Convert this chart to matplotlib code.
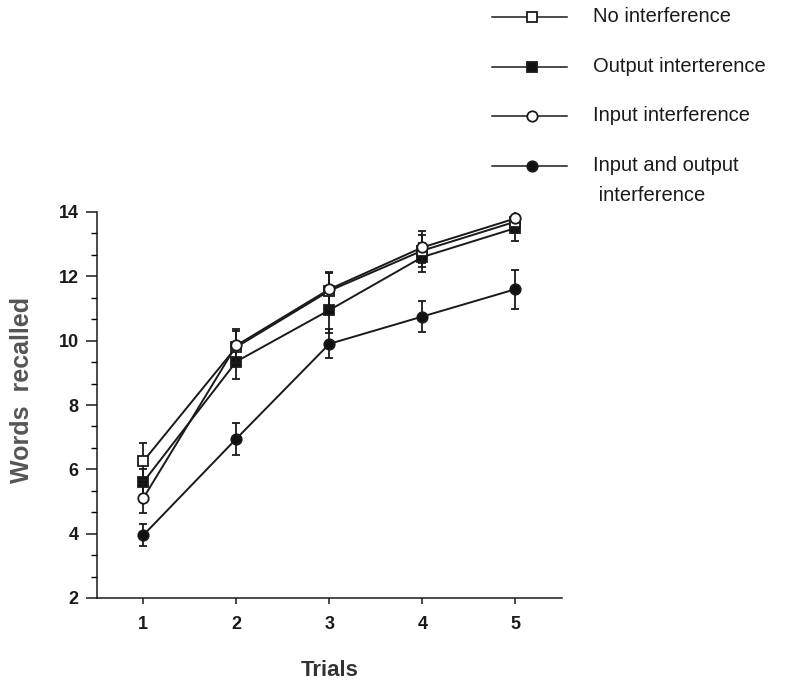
import matplotlib.pyplot as plt
from matplotlib.lines import Line2D
from matplotlib.ticker import AutoMinorLocator

plt.rcParams["font.family"] = ["Liberation Sans", "DejaVu Sans"]

trials = [1, 2, 3, 4, 5]
labels = ["No interference", "Output interterence", "Input interference",
          "Input and output\n interference"]

no_interf = [6.25, 9.8, 11.55, 12.8, 13.7]
no_interf_err = [0.57, 0.5, 0.55, 0.5, 0.35]
output_interf = [5.6, 9.35, 10.95, 12.6, 13.5]
output_interf_err = [0.4, 0.55, 0.7, 0.45, 0.4]
input_interf = [5.1, 9.85, 11.6, 12.9, 13.8]
input_interf_err = [0.45, 0.5, 0.55, 0.5, 0.3]
both_interf = [3.95, 6.95, 9.9, 10.75, 11.6]
both_interf_err = [0.34, 0.5, 0.45, 0.48, 0.6]

series = [no_interf, output_interf, input_interf, both_interf]
errors = [no_interf_err, output_interf_err, input_interf_err, both_interf_err]
markers = ["s", "s", "o", "o"]
faces = ["white", "#111111", "white", "#111111"]

W, H = 790, 687
fig = plt.figure(figsize=(W / 100, H / 100), dpi=100)
fig.patch.set_facecolor("white")
ax = fig.add_axes([96.7 / W, 89 / H, (562 - 96.7) / W, (598 - 212) / H])

for i, (ys, es) in enumerate(zip(series, errors)):
    ax.errorbar(trials, ys, yerr=es, color="#1a1a1a", lw=1.4, marker=markers[i],
                markersize=7.5, markerfacecolor=faces[i], markeredgecolor="#1a1a1a",
                markeredgewidth=1.3, ecolor="#1a1a1a", elinewidth=1.3, capsize=2.8,
                capthick=1.5, zorder=3 + (i % 2 == 0))

ax.set_xlim(0.5, 5.5)
ax.set_ylim(2, 14)
ax.set_xticks(trials)
ax.set_yticks([2, 4, 6, 8, 10, 12, 14])
ax.yaxis.set_minor_locator(AutoMinorLocator(3))
for s in ["top", "right"]:
    ax.spines[s].set_visible(False)
for s in ["left", "bottom"]:
    ax.spines[s].set_linewidth(1.1)
    ax.spines[s].set_color("#1a1a1a")
ax.tick_params(axis="y", which="major", direction="out", length=8, width=1.1, pad=5,
               labelsize=13, colors="#1a1a1a")
ax.tick_params(axis="y", which="minor", direction="out", length=4, width=1.0)
ax.tick_params(axis="x", which="major", direction="out", length=4, width=1.1, pad=9,
               labelsize=13, colors="#1a1a1a")
for t in ax.get_xticklabels() + ax.get_yticklabels():
    t.set_fontweight("bold")

fig.text(22 / W, 1 - 390 / H, "Words  recalled", rotation=90, ha="center", va="center",
         fontsize=18, fontweight="bold", color="#555555")
fig.text(330 / W, 1 - 670 / H, "Trials", ha="center", va="center",
         fontsize=16, fontweight="bold", color="#333333")

# legend drawn by hand at the top right
for i, lab in enumerate(labels):
    yr = 1 - (17 + 49.7 * i) / H
    fig.add_artist(Line2D([492 / W, 567 / W], [yr, yr], color="#1a1a1a", lw=1.1))
    fig.add_artist(Line2D([532 / W], [yr], marker=markers[i], markersize=7.5,
                          markerfacecolor=faces[i], markeredgecolor="#1a1a1a",
                          markeredgewidth=1.3, linestyle="none"))
    fig.text(593 / W, yr + 10 / H, lab, ha="left", va="top", fontsize=14.5,
             color="#1a1a1a", linespacing=1.75)

fig.savefig("out.png", dpi=100, facecolor="white")
